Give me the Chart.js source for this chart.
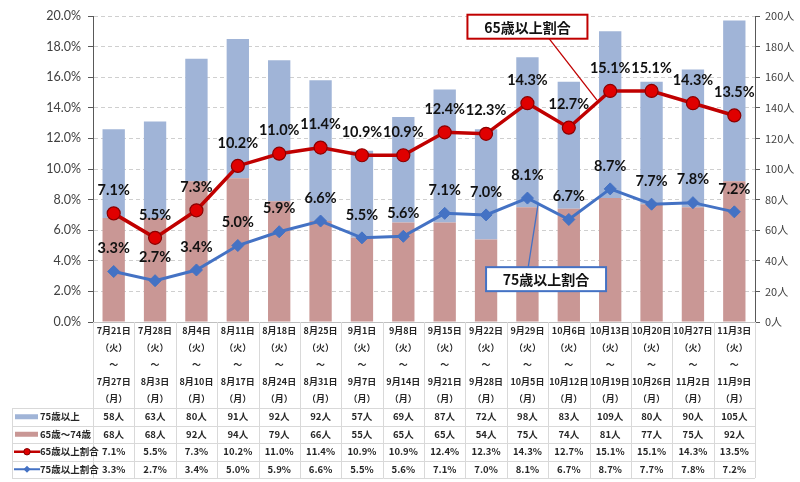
<!DOCTYPE html>
<html><head><meta charset="utf-8">
<script src="https://cdn.jsdelivr.net/npm/chart.js@4.4.1/dist/chart.umd.min.js"></script>
<style>html,body{margin:0;padding:0;background:#fff;}</style>
</head><body>
<canvas id="c" width="800" height="482"></canvas>
<script>
const weekStart = ['7月21日','7月28日','8月4日','8月11日','8月18日','8月25日','9月1日','9月8日','9月15日','9月22日','9月29日','10月6日','10月13日','10月20日','10月27日','11月3日'];
const weekEnd = ['7月27日','8月3日','8月10日','8月17日','8月24日','8月31日','9月7日','9月14日','9月21日','9月28日','10月5日','10月12日','10月19日','10月26日','11月2日','11月9日'];
const dayStart = '（火）';
const dayEnd = '（月）';
const tilde = '～';
const over75 = [58,63,80,91,92,92,57,69,87,72,98,83,109,80,90,105];
const age65to74 = [68,68,92,94,79,66,55,65,65,54,75,74,81,77,75,92];
const rate65 = [7.1,5.5,7.3,10.2,11.0,11.4,10.9,10.9,12.4,12.3,14.3,12.7,15.1,15.1,14.3,13.5];
const rate75 = [3.3,2.7,3.4,5.0,5.9,6.6,5.5,5.6,7.1,7.0,8.1,6.7,8.7,7.7,7.8,7.2];
const seriesNames = ['75歳以上','65歳～74歳','65歳以上割合','75歳以上割合'];
const annot65 = '65歳以上割合';
const annot75 = '75歳以上割合';

const FONT = "Lato, 'Noto Sans CJK JP', sans-serif";
const JFONT = "'Noto Sans CJK JP', Lato, sans-serif";
const C_BLUEBAR = '#a0b4d7';
const C_PINKBAR = '#c99795';
const C_RED = '#c00000';
const C_REDPT = '#e00000';
const C_BLUE = '#4472c4';

const labels = weekStart.map((s,i)=>[s, dayStart, tilde, weekEnd[i], dayEnd]);

const pointLabels = {
  id:'pointLabels',
  afterDatasetsDraw(chart){
    const ctx = chart.ctx;
    ctx.save();
    ctx.font = "bold 14.5px " + FONT;
    ctx.fillStyle = '#111';
    ctx.textAlign = 'center';
    ctx.textBaseline = 'middle';
    chart.data.datasets.forEach((ds, di)=>{
      if (ds.type !== 'line') return;
      const meta = chart.getDatasetMeta(di);
      meta.data.forEach((pt, i)=>{
        ctx.fillText(ds.data[i].toFixed(1)+'%', pt.x, pt.y - 23);
      });
    });
    ctx.restore();
  }
};

const annotations = {
  id:'annotations',
  afterDraw(chart){
    const ctx = chart.ctx, xs = chart.scales.x, ys = chart.scales.y;
    const drawBox = (text, cx, cy, color, from, to) => {
      ctx.save();
      ctx.strokeStyle = color; ctx.lineWidth = 1.3;
      ctx.beginPath();
      ctx.moveTo(xs.getPixelForValue(from[0]), ys.getPixelForValue(from[1]));
      ctx.lineTo(xs.getPixelForValue(to[0]), ys.getPixelForValue(to[1]));
      ctx.stroke();
      const x = xs.getPixelForValue(cx), y = ys.getPixelForValue(cy);
      const w = 120, h = 24;
      ctx.fillStyle = '#fff';
      ctx.fillRect(x - w/2, y - h/2, w, h);
      ctx.lineWidth = 2;
      ctx.strokeRect(x - w/2, y - h/2, w, h);
      ctx.fillStyle = '#111';
      ctx.font = "bold 14px " + JFONT;
      ctx.textAlign = 'center'; ctx.textBaseline = 'middle';
      ctx.fillText(text, x, y + 1);
      ctx.restore();
    };
    drawBox(annot65, 10.0, 19.3, C_RED, [10.5, 18.6], [11.68, 14.5]);
    drawBox(annot75, 10.45, 2.8, C_BLUE, [10.02, 3.6], [10.26, 7.75]);
  }
};

const dataTable = {
  id:'dataTable',
  afterDraw(chart){
    const ctx = chart.ctx, xs = chart.scales.x, area = chart.chartArea;
    const n = weekStart.length;
    const colW = (xs.right - xs.left) / n;
    const top = xs.bottom, rowH = 17.5, leftEdge = 12;
    const bottom = top + rowH * 4;
    ctx.save();
    ctx.strokeStyle = '#d9d9d9'; ctx.lineWidth = 1;
    for (let i = 0; i <= n; i++) {
      const x = Math.round(xs.left + colW * i) + 0.5;
      ctx.beginPath(); ctx.moveTo(x, area.bottom); ctx.lineTo(x, bottom); ctx.stroke();
    }
    ctx.beginPath(); ctx.moveTo(leftEdge + 0.5, top); ctx.lineTo(leftEdge + 0.5, bottom); ctx.stroke();
    for (let r = 0; r <= 4; r++) {
      const y = Math.round(top + rowH * r) + 0.5;
      ctx.beginPath(); ctx.moveTo(leftEdge, y); ctx.lineTo(xs.right, y); ctx.stroke();
    }
    const rows = [
      over75.map(v => v + '人'),
      age65to74.map(v => v + '人'),
      rate65.map(v => v.toFixed(1) + '%'),
      rate75.map(v => v.toFixed(1) + '%')
    ];
    ctx.fillStyle = '#262626';
    ctx.textAlign = 'center'; ctx.textBaseline = 'middle';
    ctx.font = "bold 9.5px " + JFONT;
    rows.forEach((row, r) => {
      const y = top + rowH * (r + 0.5);
      row.forEach((t, i) => ctx.fillText(t, xs.getPixelForValue(i), y));
    });
    rows.forEach((row, r) => {
      const y = top + rowH * (r + 0.5);
      if (r === 0 || r === 1) {
        ctx.fillStyle = r === 0 ? C_BLUEBAR : C_PINKBAR;
        ctx.fillRect(15, y - 2.5, 23, 5);
      } else if (r === 2) {
        ctx.strokeStyle = C_RED; ctx.lineWidth = 2.5;
        ctx.beginPath(); ctx.moveTo(14, y); ctx.lineTo(40, y); ctx.stroke();
        ctx.fillStyle = C_REDPT; ctx.strokeStyle = '#800000'; ctx.lineWidth = 1;
        ctx.beginPath(); ctx.arc(27, y, 3.2, 0, Math.PI*2); ctx.fill(); ctx.stroke();
      } else {
        ctx.strokeStyle = C_BLUE; ctx.lineWidth = 2;
        ctx.beginPath(); ctx.moveTo(14, y); ctx.lineTo(40, y); ctx.stroke();
        ctx.fillStyle = C_BLUE;
        ctx.beginPath(); ctx.moveTo(27, y-3.5); ctx.lineTo(30.5, y); ctx.lineTo(27, y+3.5); ctx.lineTo(23.5, y); ctx.closePath(); ctx.fill();
      }
      ctx.fillStyle = '#262626';
      ctx.textAlign = 'left';
      ctx.font = "bold 9.5px " + JFONT;
      ctx.fillText(seriesNames[r], 40, y);
    });
    ctx.restore();
  }
};

new Chart(document.getElementById('c'), {
  data: {
    labels: labels,
    datasets: [
      { type:'line', label: seriesNames[2], data: rate65, yAxisID:'y', borderColor: C_RED, borderWidth: 3.5,
        pointStyle:'circle', pointRadius: 6.5, pointBackgroundColor: C_REDPT, pointBorderColor: '#8b0000', pointBorderWidth: 1.2, order: 0 },
      { type:'line', label: seriesNames[3], data: rate75, yAxisID:'y', borderColor: C_BLUE, borderWidth: 3,
        pointStyle:'rectRot', pointRadius: 6, pointBackgroundColor: C_BLUE, pointBorderColor: C_BLUE, pointBorderWidth: 1, order: 0 },
      { type:'bar', label: seriesNames[1], data: age65to74, yAxisID:'y2', backgroundColor: C_PINKBAR, stack:'s',
        barPercentage: 0.54, categoryPercentage: 1, order: 1 },
      { type:'bar', label: seriesNames[0], data: over75, yAxisID:'y2', backgroundColor: C_BLUEBAR, stack:'s',
        barPercentage: 0.54, categoryPercentage: 1, order: 1 }
    ]
  },
  options: {
    responsive: false, animation: false,
    layout: { padding: { top: 16, bottom: 74, left: 0, right: 0 } },
    plugins: { legend: { display: false }, tooltip: { enabled: false } },
    scales: {
      x: {
        stacked: true,
        grid: { display: false, drawTicks: false },
        border: { display: true, color: '#bfbfbf' },
        ticks: { font: { family: JFONT, size: 9, weight: 'bold', lineHeight: 1.9 }, color: '#262626', padding: 0, maxRotation: 0, minRotation: 0, autoSkip: false },
        afterFit(s) { s.height = 86; }
      },
      y: {
        position: 'left', min: 0, max: 20,
        ticks: { stepSize: 2, callback: v => v.toFixed(1) + '%', font: { family: FONT, size: 12.5 }, color: '#404040', padding: 7 },
        grid: { color: '#cfcfcf', lineWidth: 1, tickLength: 5, tickColor: '#595959', tickBorderDash: [] },
        border: { display: true, color: '#595959', dash: [4, 3] },
        afterFit(s) { s.width = 93; }
      },
      y2: {
        position: 'right', min: 0, max: 200, stacked: true,
        ticks: { stepSize: 20, callback: v => v + '人', font: { family: JFONT, size: 11 }, color: '#404040', padding: 5 },
        grid: { drawOnChartArea: false, tickLength: 5, tickColor: '#595959' },
        border: { display: true, color: '#595959' },
        afterFit(s) { s.width = 45; }
      }
    }
  },
  plugins: [pointLabels, annotations, dataTable]
});
</script>
</body></html>
